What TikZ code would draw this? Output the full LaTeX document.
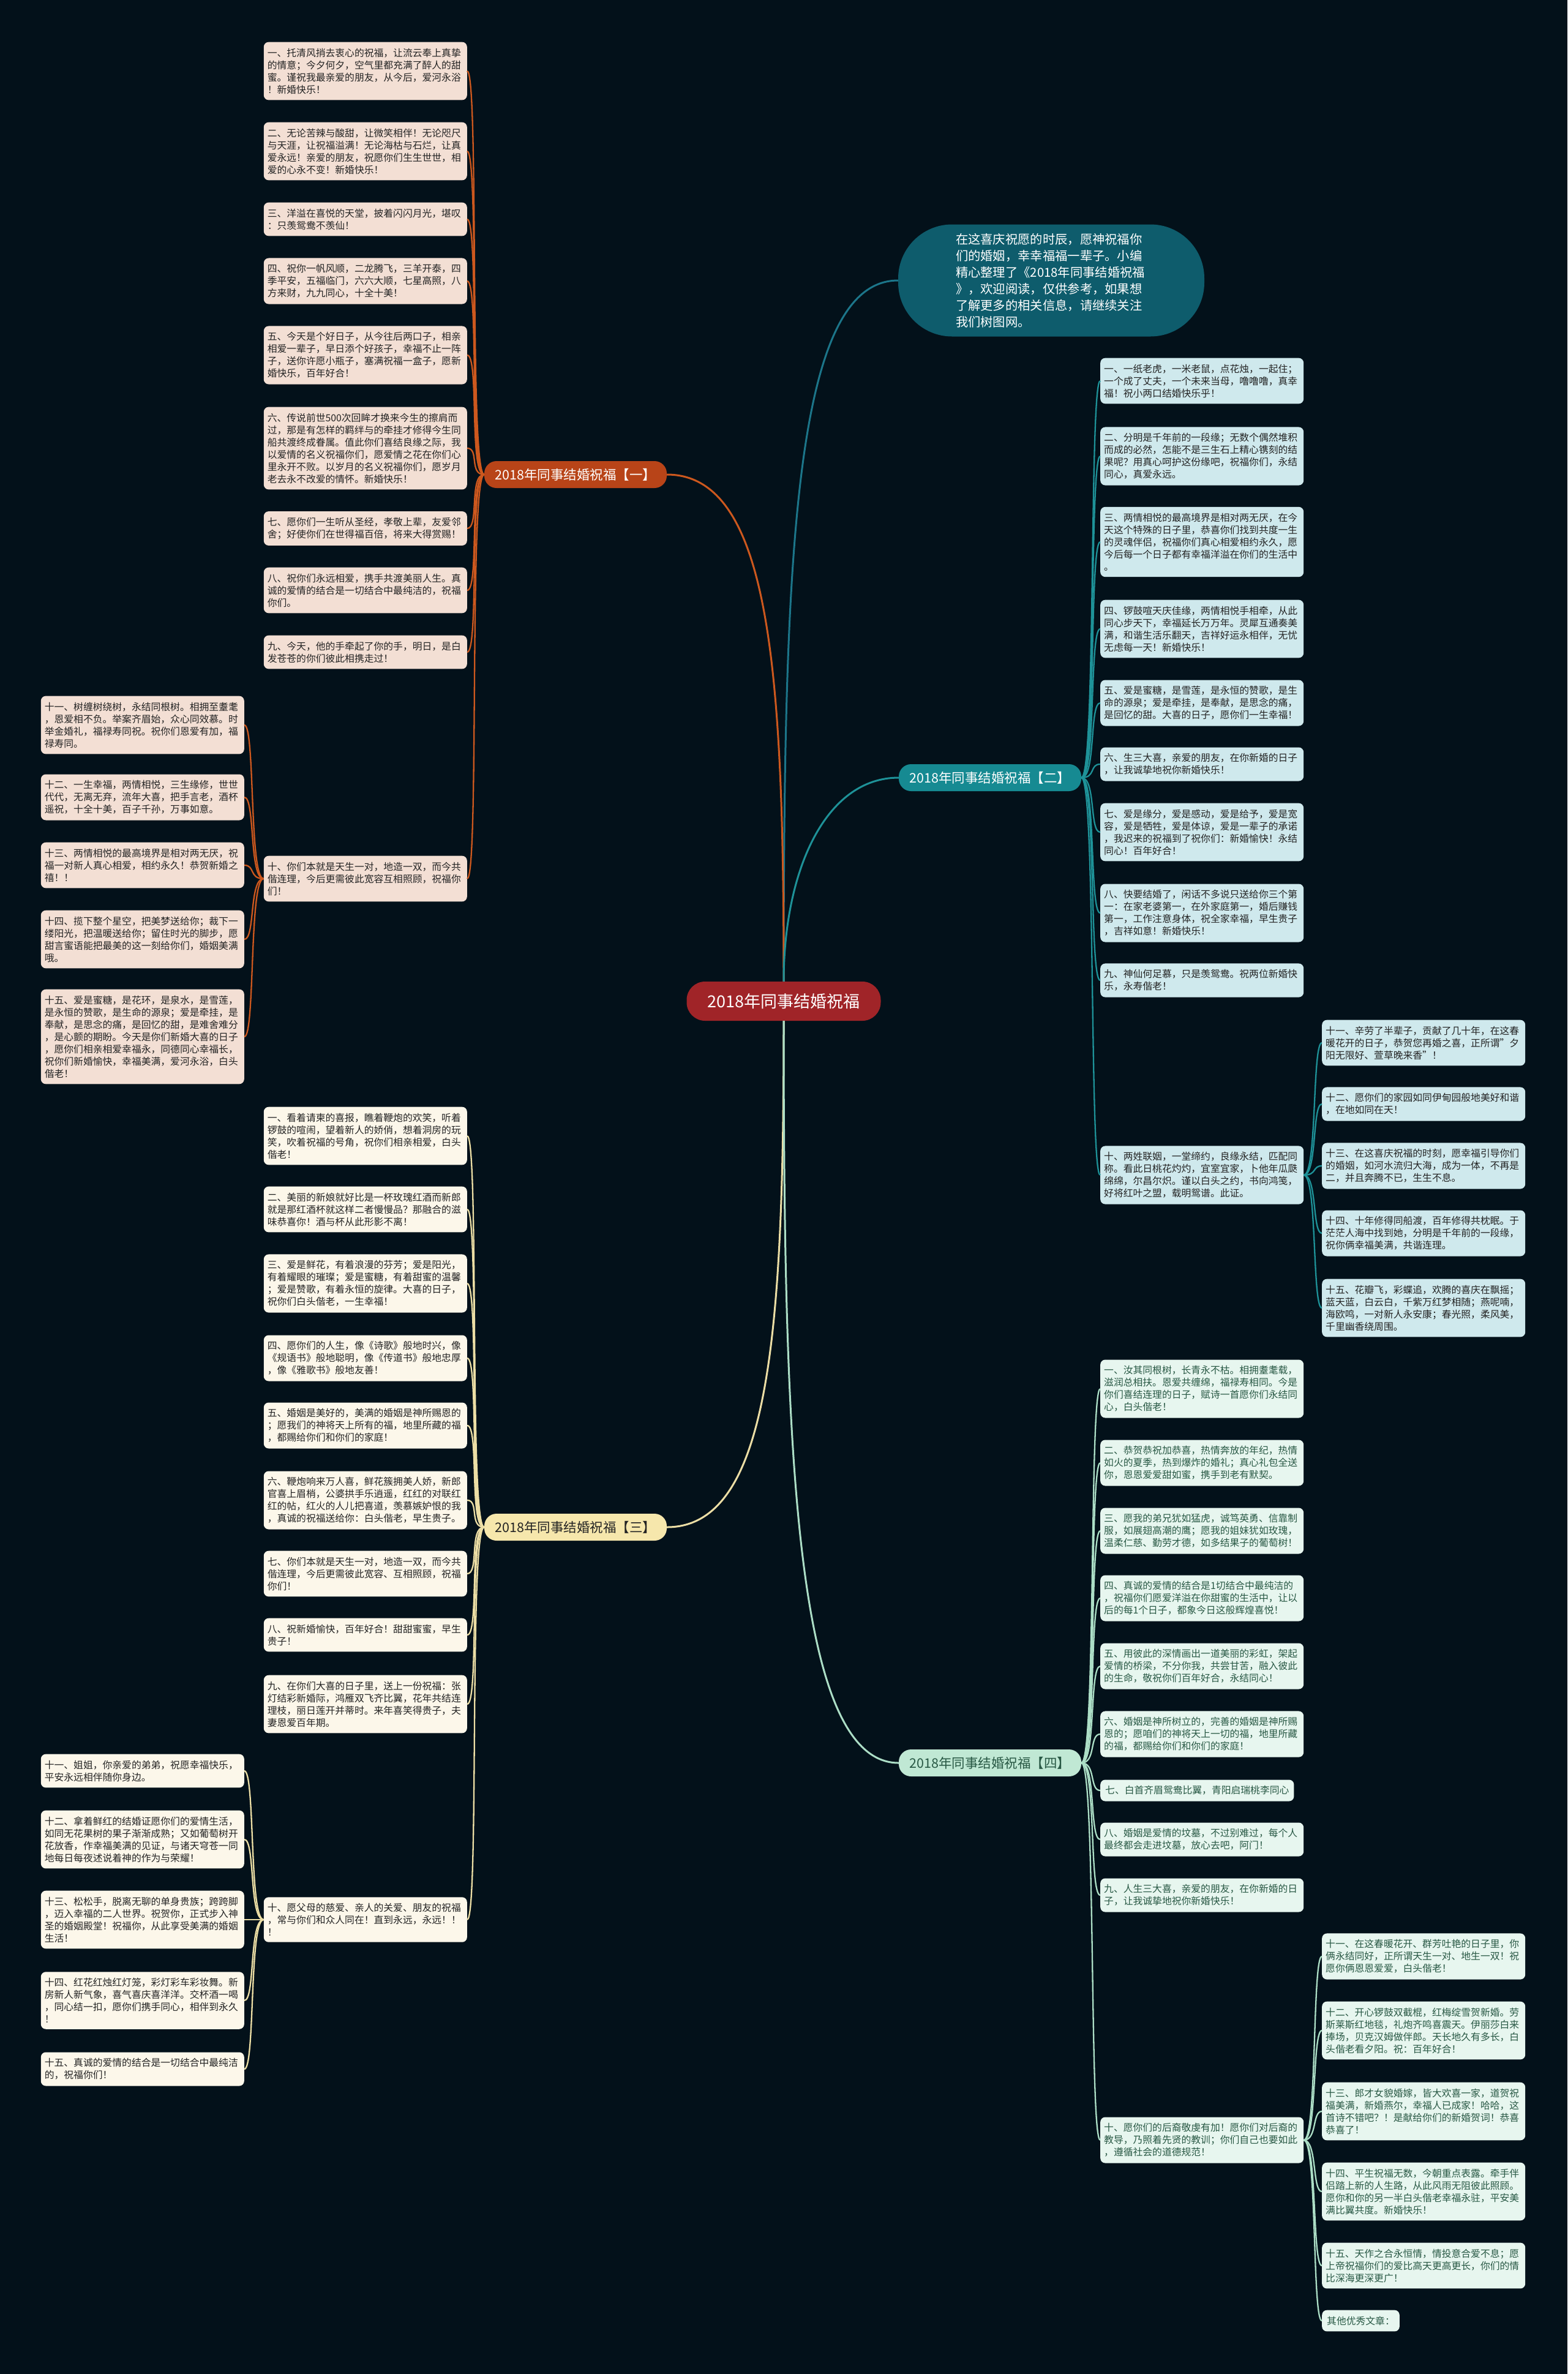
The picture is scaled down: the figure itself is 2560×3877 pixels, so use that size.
\documentclass[tikz,border=0pt]{standalone}
\usepackage{fontspec}
\setmainfont{Noto Sans CJK SC}
\definecolor{bgc}{RGB}{3,17,26}
\definecolor{ctrfill}{RGB}{160,36,40}
\definecolor{bubfill}{RGB}{14,92,108}
\definecolor{bubline}{RGB}{28,118,138}
\definecolor{oneline}{RGB}{205,88,30}
\definecolor{onefill}{RGB}{184,68,24}
\definecolor{oneleaf}{RGB}{243,223,212}
\definecolor{twoline}{RGB}{30,146,152}
\definecolor{twofill}{RGB}{22,138,146}
\definecolor{twoleaf}{RGB}{207,233,237}
\definecolor{thrline}{RGB}{236,222,165}
\definecolor{thrfill}{RGB}{246,231,172}
\definecolor{thrleaf}{RGB}{252,247,234}
\definecolor{forline}{RGB}{172,222,198}
\definecolor{forfill}{RGB}{192,232,212}
\definecolor{forleaf}{RGB}{231,246,239}
\definecolor{fortext}{RGB}{40,88,68}
\definecolor{darktext}{RGB}{35,35,35}
\begin{document}
\begin{tikzpicture}[x=1pt,y=-1pt,
 leafbox/.style={rounded corners=8pt, inner xsep=6pt, inner ysep=10pt, text width=320pt, align=left, font=\fontsize{15.8pt}{20pt}\selectfont},
 shortbox/.style={rounded corners=8pt, inner xsep=8pt, inner ysep=10pt, font=\fontsize{15.8pt}{20pt}\selectfont},
 lfA/.style={leafbox, fill=oneleaf, text=darktext, anchor=east},
 lfB/.style={leafbox, fill=twoleaf, text=darktext, anchor=west},
 lfC/.style={leafbox, fill=thrleaf, text=darktext, anchor=east},
 lfD/.style={leafbox, fill=forleaf, text=fortext, anchor=west},
 lfDs/.style={shortbox, fill=forleaf, text=fortext, anchor=west},
 blab/.style={rounded corners=20pt, minimum width=298pt, minimum height=44pt, inner sep=0pt, font=\fontsize{21.5pt}{24pt}\selectfont},
 linkA/.style={draw=oneline, line width=2.3pt},
 linkB/.style={draw=twoline, line width=2.3pt},
 linkC/.style={draw=thrline, line width=2.3pt},
 linkD/.style={draw=forline, line width=2.3pt},
 mainline/.style={line width=3pt}
]
\fill[bgc] (0,0) rectangle (2560,3877);
\useasboundingbox (0,0) rectangle (2560,3877);

% center and bubble
\node[fill=ctrfill, text=white, rounded corners=30pt, minimum width=317pt, minimum height=64pt, inner sep=0pt, font=\fontsize{27pt}{30pt}\selectfont] (c) at (1280,1635) {2018年同事结婚祝福};
\node[fill=bubfill, text=white, rounded corners=88pt, minimum width=500pt, minimum height=183pt, inner sep=0pt, text width=312pt, align=left, font=\fontsize{20.3pt}{27pt}\selectfont] (bub) at (1717,458) {在这喜庆祝愿的时辰，愿神祝福你\\们的婚姻，幸幸福福一辈子。小编\\精心整理了《2018年同事结婚祝福\\》，欢迎阅读，仅供参考，如果想\\了解更多的相关信息，请继续关注\\我们树图网。};

% branch labels
\node[blab, fill=onefill, text=white] (b1) at (940,775) {2018年同事结婚祝福【一】};
\node[blab, fill=twofill, text=white] (b2) at (1617,1270) {2018年同事结婚祝福【二】};
\node[blab, fill=thrfill, text=darktext] (b3) at (940,2494) {2018年同事结婚祝福【三】};
\node[blab, fill=forfill, text=fortext] (b4) at (1617,2879) {2018年同事结婚祝福【四】};

% branch 1 leaves
\node[lfA] (a1) at (763,116) {一、托清风捎去衷心的祝福，让流云奉上真挚\\的情意；今夕何夕，空气里都充满了醉人的甜\\蜜。谨祝我最亲爱的朋友，从今后，爱河永浴\\！新婚快乐！};
\node[lfA] (a2) at (763,247) {二、无论苦辣与酸甜，让微笑相伴！无论咫尺\\与天涯，让祝福溢满！无论海枯与石烂，让真\\爱永远！亲爱的朋友，祝愿你们生生世世，相\\爱的心永不变！新婚快乐！};
\node[lfA] (a3) at (763,358) {三、洋溢在喜悦的天堂，披着闪闪月光，堪叹\\：只羡鸳鸯不羡仙！};
\node[lfA] (a4) at (763,459) {四、祝你一帆风顺，二龙腾飞，三羊开泰，四\\季平安，五福临门，六六大顺，七星高照，八\\方来财，九九同心，十全十美！};
\node[lfA] (a5) at (763,580) {五、今天是个好日子，从今往后两口子，相亲\\相爱一辈子，早日添个好孩子，幸福不止一阵\\子，送你许愿小瓶子，塞满祝福一盒子，愿新\\婚快乐，百年好合！};
\node[lfA] (a6) at (763,732) {六、传说前世500次回眸才换来今生的擦肩而\\过，那是有怎样的羁绊与的牵挂才修得今生同\\船共渡终成眷属。值此你们喜结良缘之际，我\\以爱情的名义祝福你们，愿爱情之花在你们心\\里永开不败。以岁月的名义祝福你们，愿岁月\\老去永不改爱的情怀。新婚快乐！};
\node[lfA] (a7) at (763,863) {七、愿你们一生听从圣经，孝敬上辈，友爱邻\\舍；好使你们在世得福百倍，将来大得赏赐！};
\node[lfA] (a8) at (763,964) {八、祝你们永远相爱，携手共渡美丽人生。真\\诚的爱情的结合是一切结合中最纯洁的，祝福\\你们。};
\node[lfA] (a9) at (763,1065) {九、今天，他的手牵起了你的手，明日，是白\\发苍苍的你们彼此相携走过！};
\node[lfA] (a10) at (763,1435) {十、你们本就是天生一对，地造一双，而今共\\偕连理，今后更需彼此宽容互相照顾，祝福你\\们！};
\node[lfA] (a11) at (399,1184) {十一、树缠树绕树，永结同根树。相拥至耋耄\\，恩爱相不负。举案齐眉始，众心同效慕。时\\举金婚礼，福禄寿同祝。祝你们恩爱有加，福\\禄寿同。};
\node[lfA] (a12) at (399,1302) {十二、一生幸福，两情相悦，三生缘修，世世\\代代，无离无弃，流年大喜，把手言老，酒杯\\遥祝，十全十美，百子千孙，万事如意。};
\node[lfA] (a13) at (399,1413) {十三、两情相悦的最高境界是相对两无厌，祝\\福一对新人真心相爱，相约永久！恭贺新婚之\\禧！！};
\node[lfA] (a14) at (399,1534) {十四、揽下整个星空，把美梦送给你；裁下一\\缕阳光，把温暖送给你；留住时光的脚步，愿\\甜言蜜语能把最美的这一刻给你们，婚姻美满\\哦。};
\node[lfA] (a15) at (399,1693) {十五、爱是蜜糖，是花环，是泉水，是雪莲，\\是永恒的赞歌，是生命的源泉；爱是牵挂，是\\奉献，是思念的痛，是回忆的甜，是难舍难分\\，是心颤的期盼。今天是你们新婚大喜的日子\\，愿你们相亲相爱幸福永，同德同心幸福长，\\祝你们新婚愉快，幸福美满，爱河永浴，白头\\偕老！};

% branch 2 leaves
\node[lfB] (d1) at (1797,622) {一、一纸老虎，一米老鼠，点花烛，一起住；\\一个成了丈夫，一个未来当母，噜噜噜，真幸\\福！祝小两口结婚快乐乎！};
\node[lfB] (d2) at (1797,745) {二、分明是千年前的一段缘；无数个偶然堆积\\而成的必然，怎能不是三生石上精心镌刻的结\\果呢？用真心呵护这份缘吧，祝福你们，永结\\同心，真爱永远。};
\node[lfB] (d3) at (1797,885) {三、两情相悦的最高境界是相对两无厌，在今\\天这个特殊的日子里，恭喜你们找到共度一生\\的灵魂伴侣，祝福你们真心相爱相约永久，愿\\今后每一个日子都有幸福洋溢在你们的生活中\\。};
\node[lfB] (d4) at (1797,1027) {四、锣鼓喧天庆佳缘，两情相悦手相牵，从此\\同心步天下，幸福延长万万年。灵犀互通奏美\\满，和谐生活乐翻天，吉祥好运永相伴，无忧\\无虑每一天！新婚快乐！};
\node[lfB] (d5) at (1797,1148) {五、爱是蜜糖，是雪莲，是永恒的赞歌，是生\\命的源泉；爱是牵挂，是奉献，是思念的痛，\\是回忆的甜。大喜的日子，愿你们一生幸福！};
\node[lfB] (d6) at (1797,1248) {六、生三大喜，亲爱的朋友，在你新婚的日子\\，让我诚挚地祝你新婚快乐！};
\node[lfB] (d7) at (1797,1359) {七、爱是缘分，爱是感动，爱是给予，爱是宽\\容，爱是牺牲，爱是体谅，爱是一辈子的承诺\\，我迟来的祝福到了祝你们：新婚愉快！永结\\同心！百年好合！};
\node[lfB] (d8) at (1797,1491) {八、快要结婚了，闲话不多说只送给你三个第\\一：在家老婆第一，在外家庭第一，婚后赚钱\\第一，工作注意身体，祝全家幸福，早生贵子\\，吉祥如意！新婚快乐！};
\node[lfB] (d9) at (1797,1601) {九、神仙何足慕，只是羡鸳鸯。祝两位新婚快\\乐，永寿偕老！};
\node[lfB] (d10) at (1797,1919) {十、两姓联姻，一堂缔约，良缘永结，匹配同\\称。看此日桃花灼灼，宜室宜家，卜他年瓜瓞\\绵绵，尔昌尔炽。谨以白头之约，书向鸿笺，\\好将红叶之盟，载明鸳谱。此证。};
\node[lfB] (d11) at (2159,1703) {十一、辛劳了半辈子，贡献了几十年，在这春\\暖花开的日子，恭贺您再婚之喜，正所谓"夕\\阳无限好、萱草晚来香"！};
\node[lfB] (d12) at (2159,1803) {十二、愿你们的家园如同伊甸园般地美好和谐\\，在地如同在天！};
\node[lfB] (d13) at (2159,1904) {十三、在这喜庆祝福的时刻，愿幸福引导你们\\的婚姻，如河水流归大海，成为一体，不再是\\二，并且奔腾不已，生生不息。};
\node[lfB] (d14) at (2159,2014) {十四、十年修得同船渡，百年修得共枕眠。于\\茫茫人海中找到她，分明是千年前的一段缘，\\祝你俩幸福美满，共谐连理。};
\node[lfB] (d15) at (2159,2136) {十五、花瓣飞，彩蝶追，欢腾的喜庆在飘摇；\\蓝天蓝，白云白，千紫万红梦相随；燕呢喃，\\海欧鸣，一对新人永安康；春光照，柔风美，\\千里幽香绕周围。};

% branch 3 leaves
\node[lfC] (e1) at (763,1855) {一、看着请柬的喜报，瞧着鞭炮的欢笑，听着\\锣鼓的喧闹，望着新人的娇俏，想着洞房的玩\\笑，吹着祝福的号角，祝你们相亲相爱，白头\\偕老！};
\node[lfC] (e2) at (763,1975) {二、美丽的新娘就好比是一杯玫瑰红酒而新郎\\就是那红酒杯就这样二者慢慢品？那融合的滋\\味恭喜你！酒与杯从此形影不离！};
\node[lfC] (e3) at (763,2096) {三、爱是鲜花，有着浪漫的芬芳；爱是阳光，\\有着耀眼的璀璨；爱是蜜糖，有着甜蜜的温馨\\；爱是赞歌，有着永恒的旋律。大喜的日子，\\祝你们白头偕老，一生幸福！};
\node[lfC] (e4) at (763,2218) {四、愿你们的人生，像《诗歌》般地时兴，像\\《规语书》般地聪明，像《传道书》般地忠厚\\，像《雅歌书》般地友善！};
\node[lfC] (e5) at (763,2328) {五、婚姻是美好的，美满的婚姻是神所赐恩的\\；愿我们的神将天上所有的福，地里所藏的福\\，都赐给你们和你们的家庭！};
\node[lfC] (e6) at (763,2450) {六、鞭炮响来万人喜，鲜花簇拥美人娇，新郎\\官喜上眉梢，公婆拱手乐逍遥，红红的对联红\\红的帖，红火的人儿把喜道，羡慕嫉妒恨的我\\，真诚的祝福送给你：白头偕老，早生贵子。};
\node[lfC] (e7) at (763,2570) {七、你们本就是天生一对，地造一双，而今共\\偕连理，今后更需彼此宽容、互相照顾，祝福\\你们！};
\node[lfC] (e8) at (763,2670) {八、祝新婚愉快，百年好合！甜甜蜜蜜，早生\\贵子！};
\node[lfC] (e9) at (763,2783) {九、在你们大喜的日子里，送上一份祝福：张\\灯结彩新婚际，鸿雁双飞齐比翼，花年共结连\\理枝，丽日莲开并蒂时。来年喜笑得贵子，夫\\妻恩爱百年期。};
\node[lfC] (e10) at (763,3135) {十、愿父母的慈爱、亲人的关爱、朋友的祝福\\，常与你们和众人同在！直到永远，永远！！\\！};
\node[lfC] (e11) at (399,2892) {十一、姐姐，你亲爱的弟弟，祝愿幸福快乐，\\平安永远相伴随你身边。};
\node[lfC] (e12) at (399,3004) {十二、拿着鲜红的结婚证愿你们的爱情生活，\\如同无花果树的果子渐渐成熟；又如葡萄树开\\花放香，作幸福美满的见证，与诸天穹苍一同\\地每日每夜述说着神的作为与荣耀！};
\node[lfC] (e13) at (399,3135) {十三、松松手，脱离无聊的单身贵族；跨跨脚\\，迈入幸福的二人世界。祝贺你，正式步入神\\圣的婚姻殿堂！祝福你，从此享受美满的婚姻\\生活！};
\node[lfC] (e14) at (399,3267) {十四、红花红烛红灯笼，彩灯彩车彩妆舞。新\\房新人新气象，喜气喜庆喜洋洋。交杯酒一喝\\，同心结一扣，愿你们携手同心，相伴到永久\\！};
\node[lfC] (e15) at (399,3379) {十五、真诚的爱情的结合是一切结合中最纯洁\\的，祝福你们！};

% branch 4 leaves
\node[lfD] (f1) at (1797,2268) {一、汝其同根树，长青永不枯。相拥耋耄载，\\滋润总相扶。恩爱共缠绵，福禄寿相同。今是\\你们喜结连理的日子，赋诗一首愿你们永结同\\心，白头偕老！};
\node[lfD] (f2) at (1797,2389) {二、恭贺恭祝加恭喜，热情奔放的年纪，热情\\如火的夏季，热到爆炸的婚礼；真心礼包全送\\你，恩恩爱爱甜如蜜，携手到老有默契。};
\node[lfD] (f3) at (1797,2500) {三、愿我的弟兄犹如猛虎，诚笃英勇、信靠制\\服，如展翅高潮的鹰；愿我的姐妹犹如玫瑰，\\温柔仁慈、勤劳才德，如多结果子的葡萄树！};
\node[lfD] (f4) at (1797,2610) {四、真诚的爱情的结合是1切结合中最纯洁的\\，祝福你们愿爱洋溢在你甜蜜的生活中，让以\\后的每1个日子，都象今日这般辉煌喜悦！};
\node[lfD] (f5) at (1797,2721) {五、用彼此的深情画出一道美丽的彩虹，架起\\爱情的桥梁，不分你我，共尝甘苦，融入彼此\\的生命，敬祝你们百年好合，永结同心！};
\node[lfD] (f6) at (1797,2832) {六、婚姻是神所树立的，完善的婚姻是神所赐\\恩的；愿咱们的神将天上一切的福，地里所藏\\的福，都赐给你们和你们的家庭！};
\node[lfDs] (f7) at (1797,2924) {七、白首齐眉鸳鸯比翼，青阳启瑞桃李同心};
\node[lfD] (f8) at (1797,3004) {八、婚姻是爱情的坟墓，不过别难过，每个人\\最终都会走进坟墓，放心去吧，阿门！};
\node[lfD] (f9) at (1797,3095) {九、人生三大喜，亲爱的朋友，在你新婚的日\\子，让我诚挚地祝你新婚快乐！};
\node[lfD] (f10) at (1797,3495) {十、愿你们的后裔敬虔有加！愿你们对后裔的\\教导，乃照着先贤的教训；你们自己也要如此\\，遵循社会的道德规范！};
\node[lfD] (f11) at (2159,3195) {十一、在这春暖花开、群芳吐艳的日子里，你\\俩永结同好，正所谓天生一对、地生一双！祝\\愿你俩恩恩爱爱，白头偕老！};
\node[lfD] (f12) at (2159,3316) {十二、开心锣鼓双截棍，红梅绽雪贺新婚。劳\\斯莱斯红地毯，礼炮齐鸣喜震天。伊丽莎白来\\捧场，贝克汉姆做伴郎。天长地久有多长，白\\头偕老看夕阳。祝：百年好合！};
\node[lfD] (f13) at (2159,3448) {十三、郎才女貌婚嫁，皆大欢喜一家，道贺祝\\福美满，新婚燕尔，幸福人已成家！哈哈，这\\首诗不错吧？！是献给你们的新婚贺词！恭喜\\恭喜了！};
\node[lfD] (f14) at (2159,3579) {十四、平生祝福无数，今朝重点表露。牵手伴\\侣踏上新的人生路，从此风雨无阻彼此照顾。\\愿你和你的另一半白头偕老幸福永驻，平安美\\满比翼共度。新婚快乐！};
\node[lfD] (f15) at (2159,3700) {十五、天作之合永恒情，情投意合爱不息；愿\\上帝祝福你们的爱比高天更高更长，你们的情\\比深海更深更广！};
\node[lfDs] (f16) at (2159,3790) {其他优秀文章：};

% main connectors
\draw[mainline, draw=bubline] (c.north) .. controls +(0,-700) and +(-170,0) .. (bub.west);
\draw[mainline, draw=oneline] (c.north) .. controls +(0,-500) and +(170,0) .. (b1.east);
\draw[mainline, draw=twoline] (c.north) .. controls +(0,-180) and +(-120,0) .. (b2.west);
\draw[mainline, draw=thrline] (c.south) .. controls +(0,500) and +(170,0) .. (b3.east);
\draw[mainline, draw=forline] (c.south) .. controls +(0,700) and +(-170,0) .. (b4.west);

% branch 1 connectors
\foreach \n in {a1,a2,a3,a4,a5,a6,a7,a8,a9,a10}
  \draw[linkA] (b1.west) .. controls +(-25,0) and +(20,0) .. (\n.east);
\foreach \n in {a11,a12,a13,a14,a15}
  \draw[linkA] (a10.west) .. controls +(-24,0) and +(18,0) .. (\n.east);
% branch 2 connectors
\foreach \n in {d1,d2,d3,d4,d5,d6,d7,d8,d9,d10}
  \draw[linkB] (b2.east) .. controls +(24,0) and +(-18,0) .. (\n.west);
\foreach \n in {d11,d12,d13,d14,d15}
  \draw[linkB] (d10.east) .. controls +(22,0) and +(-16,0) .. (\n.west);
% branch 3 connectors
\foreach \n in {e1,e2,e3,e4,e5,e6,e7,e8,e9,e10}
  \draw[linkC] (b3.west) .. controls +(-25,0) and +(20,0) .. (\n.east);
\foreach \n in {e11,e12,e13,e14,e15}
  \draw[linkC] (e10.west) .. controls +(-24,0) and +(18,0) .. (\n.east);
% branch 4 connectors
\foreach \n in {f1,f2,f3,f4,f5,f6,f7,f8,f9,f10}
  \draw[linkD] (b4.east) .. controls +(24,0) and +(-18,0) .. (\n.west);
\foreach \n in {f11,f12,f13,f14,f15,f16}
  \draw[linkD] (f10.east) .. controls +(22,0) and +(-16,0) .. (\n.west);
\end{tikzpicture}
\end{document}
